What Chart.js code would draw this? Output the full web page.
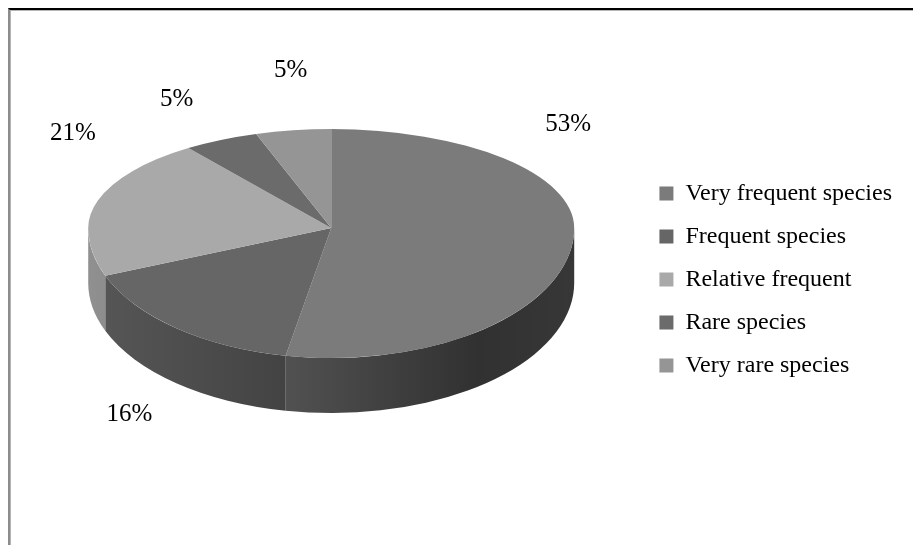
<!DOCTYPE html>
<html>
<head>
<meta charset="utf-8">
<script src="https://cdn.jsdelivr.net/npm/chart.js@4/dist/chart.umd.min.js"></script>
<style>
  html, body { margin: 0; padding: 0; background: #fff; }
  .wrap { position: relative; width: 913px; height: 545px; overflow: hidden; }
  .frame {
    position: absolute; left: 8px; top: 8px; right: 0; bottom: 0;
    border-top: 2px solid #000; border-left: 2px solid #8c8c8c;
    box-shadow: inset 1px 1px 0 #b4b4b4;
  }
  canvas { position: absolute; left: 0; top: 0; }
</style>
</head>
<body>
<div class="wrap">
  <div class="frame"></div>
  <canvas id="pieChart" width="913" height="545"></canvas>
</div>
<script>
const categories = ['Very frequent species', 'Frequent species', 'Relative frequent', 'Rare species', 'Very rare species'];
const shares = [53, 16, 21, 5, 5];
const shareLabels = ['53%', '16%', '21%', '5%', '5%'];

function shade(hex, f) {
    const n = parseInt(hex.slice(1), 16);
    const c = v => Math.max(0, Math.min(255, Math.round(v * f)));
    return `rgb(${c(n >> 16)}, ${c((n >> 8) & 255)}, ${c(n & 255)})`;
}

// fake 3D: back half squashed harder than the front half (cheap perspective),
// plus a wall hanging under the front half
function geom(chart, opts) {
    const arcs = chart.getDatasetMeta(0).data;
    if (!arcs.length) return null;
    const {x, y, outerRadius: r} = arcs[0];
    return {arcs, x, y, r, vy: Math.round(y + opts.shiftY), ryT: r * opts.tiltBack, ryB: r * opts.tiltFront};
}

function squash(ctx, g, tilt) {
    ctx.translate(g.x, g.vy);
    ctx.scale(1, tilt);
    ctx.translate(-g.x, -g.y);
}

const pie3d = {
    id: 'pie3d',
    beforeDatasetsDraw(chart, args, opts) {
        const ctx = chart.ctx;
        const g = geom(chart, opts);
        chart.$tilted = false;
        if (!g) return;
        const colors = chart.data.datasets[0].backgroundColor;

        g.arcs.forEach((arc, i) => {
            const a = Math.max(arc.startAngle, 0);
            const b = Math.min(arc.endAngle, Math.PI);
            if (b <= a) return;
            const grad = ctx.createLinearGradient(g.x - g.r, 0, g.x + g.r, 0);
            opts.wallShade.forEach(([pos, f]) => grad.addColorStop(pos, shade(colors[i], f)));
            ctx.beginPath();
            ctx.ellipse(g.x, g.vy, g.r, g.ryB, 0, a, b);
            ctx.ellipse(g.x, g.vy + opts.depth, g.r, g.ryB, 0, b, a, true);
            ctx.closePath();
            ctx.fillStyle = grad;
            ctx.fill();
        });

        // front half: drawn by Chart.js itself
        ctx.save();
        ctx.beginPath();
        ctx.rect(0, g.vy, chart.width, chart.height - g.vy);
        ctx.clip();
        squash(ctx, g, opts.tiltFront);
        chart.$tilted = true;
    },
    afterDatasetsDraw(chart, args, opts) {
        const ctx = chart.ctx;
        if (chart.$tilted) ctx.restore();
        const g = geom(chart, opts);
        if (!g) return;

        // back half: same arcs again, flatter
        ctx.save();
        ctx.beginPath();
        ctx.rect(0, 0, chart.width, g.vy);
        ctx.clip();
        squash(ctx, g, opts.tiltBack);
        chart.getDatasetMeta(0).controller.draw();
        ctx.restore();

        ctx.save();
        ctx.font = opts.labelFont;
        ctx.fillStyle = '#000';
        ctx.textAlign = 'center';
        ctx.textBaseline = 'middle';
        g.arcs.forEach((arc, i) => {
            const t = opts.labelAngle[i] * Math.PI / 180;
            const d = opts.labelDist[i];
            const ry = Math.cos(t) >= 0 ? g.ryT : g.ryB;
            ctx.fillText(shareLabels[i], g.x + g.r * d * Math.sin(t), g.vy - ry * d * Math.cos(t));
        });
        ctx.restore();
    }
};

const ctx = document.getElementById('pieChart').getContext('2d');

new Chart(ctx, {
    type: 'pie',
    data: {
        labels: categories,
        datasets: [
            {
            data: shares,
            backgroundColor: ['#7b7b7b', '#666666', '#a9a9a9', '#6b6b6b', '#959595'],
            borderWidth: 0
            }
        ]
    },
    plugins: [pie3d],
    options: {
        responsive: false,
        animation: false,
        events: [],
        radius: 243,
        layout: {
            padding: { top: 14, bottom: 0, left: 22, right: 11 }
        },
        plugins: {
            legend: {
                position: 'right',
                labels: {
                    color: '#000',
                    font: { family: 'Liberation Serif', size: 24 },
                    boxWidth: 14,
                    boxHeight: 14,
                    padding: 19
                }
            },
            tooltip: { enabled: false },
            pie3d: {
                tiltBack: 0.407,
                tiltFront: 0.535,
                depth: 55,
                shiftY: -51.5,
                wallShade: [[0, 0.85], [0.37, 0.68], [0.8, 0.4], [1, 0.45]],
                labelFont: '25px "Liberation Serif"',
                labelAngle: [43, 210, 312, 334, 354],
                labelDist: [1.43, 1.66, 1.43, 1.45, 1.6]
            }
        }
    }
});
</script>
</body>
</html>
